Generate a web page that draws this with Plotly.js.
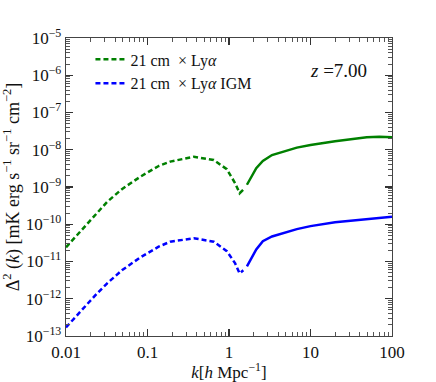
<!DOCTYPE html>
<html>
<head>
<meta charset="utf-8">
<script src="https://cdn.plot.ly/plotly-3.0.1.min.js"></script>
<style>
  html, body { margin: 0; padding: 0; background: #fff; }
  #chart { width: 436px; height: 382px; }
</style>
</head>
<body>
<div id="chart"></div>
<script>
// k below the dip (drawn dashed) and above it (drawn solid)
const k_low = [0.01, 0.0137, 0.0178, 0.0237, 0.032, 0.049, 0.082, 0.137, 0.19, 0.37, 0.65, 0.94, 1.19, 1.35, 1.5];
const k_high = [1.66, 2.16, 2.6, 3.37, 6.8, 10, 20, 49, 70, 100];

const lya_low = [2.4e-11, 5.2e-11, 9.8e-11, 1.9e-10, 4.0e-10, 8.9e-10, 1.9e-9, 3.66e-9, 4.8e-9, 6.5e-9, 5.3e-9, 3.0e-9, 1.26e-9, 6.8e-10, 8.5e-10];
const lya_high = [1.15e-9, 3.2e-9, 5.0e-9, 7.2e-9, 1.14e-8, 1.34e-8, 1.7e-8, 2.15e-8, 2.22e-8, 2.18e-8];

const igm_low = [1.7e-13, 3.5e-13, 6.8e-13, 1.34e-12, 2.6e-12, 5.9e-12, 1.3e-11, 2.5e-11, 3.4e-11, 4.2e-11, 3.4e-11, 1.9e-11, 8.9e-12, 4.8e-12, 5.8e-12];
const igm_high = [7.4e-12, 2.1e-11, 3.5e-11, 4.7e-11, 7.4e-11, 8.9e-11, 1.13e-10, 1.35e-10, 1.5e-10, 1.6e-10];

const x_exps = [-2, -1, 0, 1, 2];
const x_labels = ['0.01', '0.1', '1', '10', '100'];
const y_exps = [-13, -12, -11, -10, -9, -8, -7, -6, -5];

const serif = 'Liberation Serif, DejaVu Serif, serif';
const green = '#008000';
const blue = '#0000ff';

function line(x, y, color, dash, name, showlegend) {
    return {x, y, name, showlegend, type: 'scatter', mode: 'lines',
            line: {color, width: 2.5, dash}, hoverinfo: 'skip'};
}

// minor ticks at 2..9 inside each decade
function minor_vals(exps) {
    const out = [];
    exps.slice(0, -1).forEach(e => {
        for (let m = 2; m < 10; m++) out.push(m * Math.pow(10, e));
    });
    return out;
}

const data = [
    line(k_low, lya_low, green, '5px,3px', '21 cm  × Ly<i>α</i>', true),
    line(k_low, igm_low, blue, '5px,3px', '21 cm  × Ly<i>α</i> IGM', true),
    line(k_high, lya_high, green, 'solid', '', false),
    line(k_high, igm_high, blue, 'solid', '', false),
    // invisible copy so the minor-tick axes get drawn
    {x: k_high, y: lya_high, xaxis: 'x2', yaxis: 'y2', type: 'scatter', mode: 'lines',
     line: {width: 0, color: 'rgba(0,0,0,0)'}, showlegend: false, hoverinfo: 'skip'},
];

const axis_common = {
    type: 'log',
    showgrid: false,
    zeroline: false,
    showline: true,
    linecolor: '#444',
    linewidth: 1.3,
    mirror: 'allticks',
    ticks: 'inside',
    ticklen: 7,
    tickwidth: 1.2,
    tickcolor: '#333',
    tickmode: 'array',
    tickfont: {family: serif, size: 17, color: '#111'},
};

const minor_common = {
    type: 'log',
    showgrid: false,
    zeroline: false,
    showline: false,
    mirror: 'allticks',
    ticks: 'inside',
    ticklen: 4,
    tickwidth: 1,
    tickcolor: '#555',
    tickmode: 'array',
    showticklabels: false,
};

const layout = {
    width: 436,
    height: 382,
    margin: {l: 66, r: 44, t: 38, b: 46},
    paper_bgcolor: '#fff',
    plot_bgcolor: '#fff',
    font: {family: serif, color: '#111'},
    xaxis: Object.assign({}, axis_common, {
        range: [-2, 2],
        tickvals: x_exps.map(e => Math.pow(10, e)),
        ticktext: x_labels,
        title: {text: '<i>k</i>[<i>h</i> Mpc<sup>−1</sup>]', font: {family: serif, size: 17}, standoff: 4},
    }),
    yaxis: Object.assign({}, axis_common, {
        range: [-13, -5],
        tickvals: y_exps.map(e => Math.pow(10, e)),
        ticktext: y_exps.map(e => '10<sup>−' + Math.abs(e) + '</sup>'),
        title: {text: 'Δ<sup>2</sup> (<i>k</i>) [mK erg s<sup>−1</sup> sr<sup>−1</sup> cm<sup>−2</sup>]', font: {family: serif, size: 18}, standoff: 2},
    }),
    xaxis2: Object.assign({}, minor_common, {
        overlaying: 'x', anchor: 'y2', side: 'bottom',
        range: [-2, 2],
        tickvals: minor_vals(x_exps),
    }),
    yaxis2: Object.assign({}, minor_common, {
        overlaying: 'y', anchor: 'x2', side: 'left',
        range: [-13, -5],
        tickvals: minor_vals(y_exps),
    }),
    legend: {
        x: 0.075, y: 0.985, xanchor: 'left', yanchor: 'top',
        bgcolor: 'rgba(0,0,0,0)',
        font: {family: serif, size: 16, color: '#111'},
    },
    annotations: [{
        xref: 'paper', yref: 'paper', x: 0.93, y: 0.89,
        xanchor: 'right', yanchor: 'middle', showarrow: false,
        text: '<i>z</i> =7.00', font: {family: serif, size: 19, color: '#111'},
    }],
    showlegend: true,
    hovermode: false,
};

Plotly.newPlot('chart', data, layout, {staticPlot: true});
</script>
</body>
</html>
